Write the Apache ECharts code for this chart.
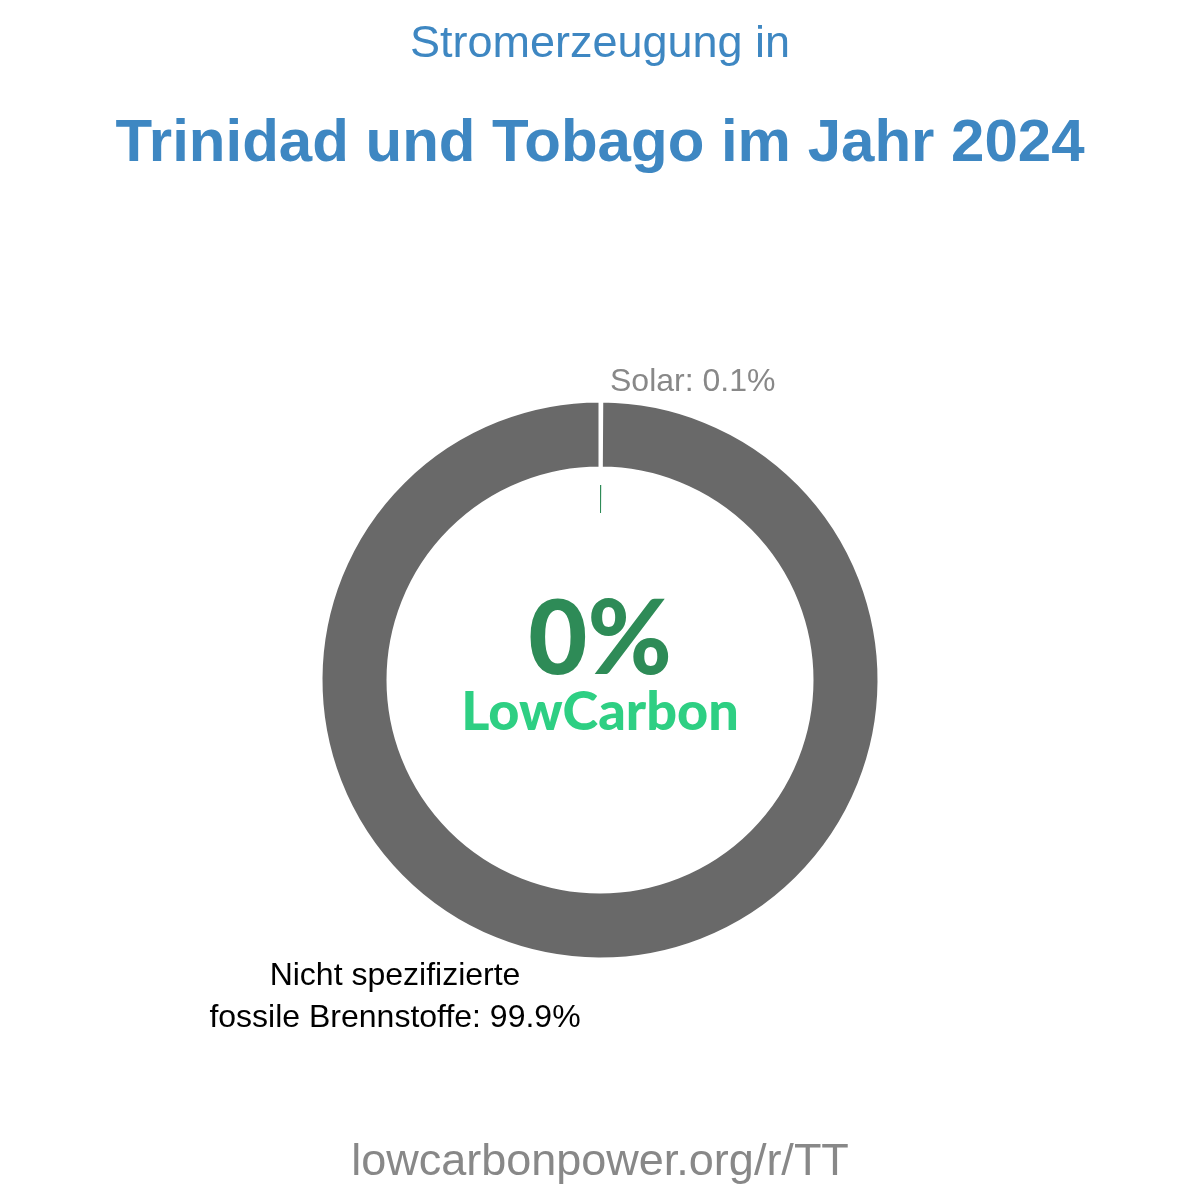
<!DOCTYPE html>
<html>
<head>
<meta charset="utf-8">
<script src="https://cdn.jsdelivr.net/npm/echarts@6/dist/echarts.min.js"></script>
<style>
html, body { margin: 0; padding: 0; background: #fff; }
#chart { width: 1200px; height: 1200px; }
</style>
</head>
<body>
<div id="chart"></div>
<script>
var sources = ['Solar', 'Nicht spezifizierte\nfossile Brennstoffe'];
var shares = [0.1, 99.9];
var sliceColors = ['#2e8b57', '#696969'];
var lowCarbonShare = 0.1;
var lowCarbonText = '0%';

var chart = echarts.init(document.getElementById('chart'));

var pieData = sources.map(function (name, i) {
	return { name: name, value: shares[i], itemStyle: { color: sliceColors[i] } };
});

var option = {
	animation: false,
	title: [
		{
			text: 'Stromerzeugung in',
			left: 'center', top: 17,
			textStyle: { fontFamily: 'Liberation Sans', fontSize: 45, fontWeight: 'normal', color: '#3e87c2' }
		},
		{
			text: 'Trinidad und Tobago im Jahr 2024',
			left: 'center', top: 109,
			textStyle: { fontFamily: 'Liberation Sans', fontSize: 60, fontWeight: 'bold', color: '#3e87c2' }
		},
		{
			text: 'lowcarbonpower.org/r/TT',
			left: 'center', top: 1135,
			textStyle: { fontFamily: 'Liberation Sans', fontSize: 45, fontWeight: 'normal', color: '#888888' }
		}
	],
	graphic: [
		{
			type: 'text', left: 'center', top: 590,
			style: { text: lowCarbonText, font: '900 102px Lato', fill: '#2e8b57' }
		},
		{
			type: 'text', left: 'center', top: 686,
			style: { text: 'LowCarbon', font: '900 54px Lato', fill: '#2ecf83' }
		}
	],
	series: [
		{
			type: 'pie',
			center: [600, 680],
			radius: [212, 279],
			startAngle: 90,
			clockwise: true,
			avoidLabelOverlap: false,
			itemStyle: { borderColor: '#ffffff', borderWidth: 3 },
			label: {
				show: true,
				fontFamily: 'Liberation Sans',
				fontSize: 32,
				lineHeight: 42,
				formatter: function (p) { return p.name + ': ' + p.value + '%'; }
			},
			labelLine: { show: false },
			labelLayout: function (p) {
				if (p.dataIndex === 0) {
					return { x: 610, y: 382, align: 'left', verticalAlign: 'middle' };
				}
				return { x: 395, y: 997, align: 'center', verticalAlign: 'middle' };
			},
			data: [
				Object.assign({}, pieData[0], { label: { color: '#888888' } }),
				Object.assign({}, pieData[1], { label: { color: '#000000' } })
			]
		},
		{
			type: 'pie',
			center: [600, 680],
			radius: [167, 195],
			startAngle: 90,
			clockwise: true,
			silent: true,
			label: { show: false },
			labelLine: { show: false },
			data: [
				{ name: 'lowcarbon', value: lowCarbonShare, itemStyle: { color: '#2e8b57' } },
				{ name: 'rest', value: 100 - lowCarbonShare, itemStyle: { color: 'rgba(0,0,0,0)' } }
			]
		}
	]
};

chart.setOption(option);
</script>
</body>
</html>
